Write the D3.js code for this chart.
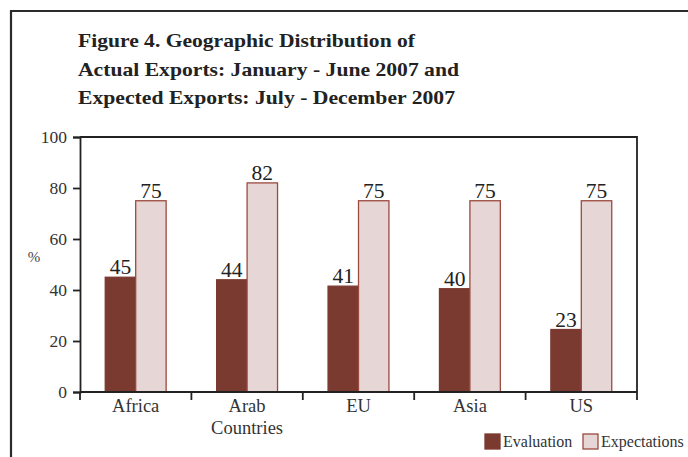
<!DOCTYPE html>
<html>
<head>
<meta charset="utf-8">
<script src="https://cdn.jsdelivr.net/npm/d3@7"></script>
<style>
  body { margin: 0; background: #fff; }
  svg text { font-family: "Liberation Serif", "Times New Roman", serif; }
</style>
</head>
<body>
<div id="chart"></div>
<script>
// Figure 4 - actual vs expected exports by region

const titleLines = [
    'Figure 4. Geographic Distribution of',
    'Actual Exports: January - June 2007 and',
    'Expected Exports: July - December 2007'
];
const categories = [['Africa'], ['Arab', 'Countries'], ['EU'], ['Asia'], ['US']];
const seriesNames = ['Evaluation', 'Expectations'];
const evaluation = [45, 44, 41.5, 40.5, 24.5];
const expectations = [75, 82, 75, 75, 75];
const evaluationLabels = ['45', '44', '41', '40', '23'];
const expectationLabels = ['75', '82', '75', '75', '75'];
const yTicks = [0, 20, 40, 60, 80, 100];

const colors = { Evaluation: '#7b3a30', Expectations: '#e6d6d5' };
const strokes = { Evaluation: '#7b3a30', Expectations: '#9c4a3f' };
const SERIF = '"Liberation Serif", "Times New Roman", serif';

const width = 688, height = 457;
const margin = { top: 137, right: 51, bottom: 65, left: 80 };

const svg = d3.select('#chart').append('svg')
    .attr('width', width)
    .attr('height', height)
    .attr('font-family', SERIF);

// outer frame (runs off the right and bottom edges)
svg.append('path')
    .attr('d', `M11,${height + 5}V11H${width + 5}`)
    .attr('fill', 'none')
    .attr('stroke', '#2b2b2b')
    .attr('stroke-width', 2.2);

// title
svg.append('g').selectAll('text')
    .data(titleLines)
    .join('text')
    .attr('x', 78)
    .attr('y', (d, i) => 47 + i * 28.5)
    .attr('font-family', SERIF)
    .attr('font-size', 19.5)
    .attr('font-weight', 'bold')
    .attr('fill', '#222')
    .attr('textLength', (d, i) => [337, 381, 377][i])
    .attr('lengthAdjust', 'spacingAndGlyphs')
    .text(d => d);

const x0 = d3.scaleBand()
    .domain(d3.range(categories.length))
    .range([margin.left, width - margin.right])
    .paddingInner(0)
    .paddingOuter(0);

const x1 = d3.scaleBand()
    .domain(seriesNames)
    .range([0, x0.bandwidth()])
    .paddingInner(0)
    .paddingOuter(0.83);

const y = d3.scaleLinear()
    .domain([0, 100])
    .range([height - margin.bottom, margin.top]);

const plotBottom = y(0), plotTop = y(100);
const plotLeft = margin.left, plotRight = width - margin.right;

// frame around plot area (top + right)
svg.append('path')
    .attr('d', `M${plotLeft},${plotTop}H${plotRight}V${plotBottom}`)
    .attr('fill', 'none')
    .attr('stroke', '#222')
    .attr('stroke-width', 1.8);

// y axis
const yAxis = svg.append('g')
    .attr('transform', `translate(${plotLeft},0)`)
    .call(d3.axisLeft(y).tickValues(yTicks).tickSize(7).tickPadding(6));
yAxis.attr('font-family', SERIF);
yAxis.select('.domain').attr('stroke', '#222').attr('stroke-width', 1.8);
yAxis.selectAll('.tick line').attr('stroke', '#222').attr('stroke-width', 1.8);
yAxis.selectAll('.tick text')
    .attr('font-size', 17.5)
    .attr('font-family', SERIF)
    .attr('fill', '#333');

svg.append('text')
    .attr('x', 34)
    .attr('y', 262)
    .attr('text-anchor', 'middle')
    .attr('font-family', SERIF)
    .attr('font-size', 15)
    .attr('fill', '#444')
    .text('%');

// grouped bars
const barData = i => [
    { key: 'Evaluation', value: evaluation[i], label: evaluationLabels[i] },
    { key: 'Expectations', value: expectations[i], label: expectationLabels[i] }
];

const groups = svg.append('g').selectAll('g')
    .data(categories.map((c, i) => i))
    .join('g')
    .attr('transform', i => `translate(${x0(i)},0)`);

groups.selectAll('rect')
    .data(barData)
    .join('rect')
    .attr('x', d => x1(d.key))
    .attr('y', d => y(d.value))
    .attr('width', x1.bandwidth())
    .attr('height', d => y(0) - y(d.value))
    .attr('fill', d => colors[d.key])
    .attr('stroke', d => strokes[d.key])
    .attr('stroke-width', 1.3);

groups.selectAll('text.val')
    .data(barData)
    .join('text')
    .attr('class', 'val')
    .attr('x', d => x1(d.key) + x1.bandwidth() / 2)
    .attr('y', d => y(d.value) - 3)
    .attr('text-anchor', 'middle')
    .attr('font-family', SERIF)
    .attr('font-size', 21.5)
    .attr('fill', '#222')
    .text(d => d.label);

// x axis: baseline with ticks between categories
svg.append('line')
    .attr('x1', plotLeft).attr('x2', plotRight)
    .attr('y1', plotBottom).attr('y2', plotBottom)
    .attr('stroke', '#222')
    .attr('stroke-width', 1.8);

const boundaries = d3.range(categories.length + 1).map(i =>
    i < categories.length ? x0(i) : x0(i - 1) + x0.bandwidth());
svg.append('g').selectAll('line')
    .data(boundaries)
    .join('line')
    .attr('x1', d => d).attr('x2', d => d)
    .attr('y1', plotBottom).attr('y2', plotBottom + 8)
    .attr('stroke', '#222')
    .attr('stroke-width', 1.8);

svg.append('g').selectAll('text')
    .data(categories.map((c, i) => i))
    .join('text')
    .attr('x', i => x0(i) + x0.bandwidth() / 2)
    .attr('y', plotBottom + 20)
    .attr('text-anchor', 'middle')
    .attr('font-family', SERIF)
    .attr('font-size', 18.5)
    .attr('fill', '#333')
    .selectAll('tspan')
    .data(i => categories[i].map(t => ({ t, x: x0(i) + x0.bandwidth() / 2 })))
    .join('tspan')
    .attr('x', d => d.x)
    .attr('dy', (d, j) => j === 0 ? 0 : 21.5)
    .text(d => d.t);

// legend
const legendX = [485, 583];
const legend = svg.append('g').selectAll('g')
    .data(seriesNames)
    .join('g')
    .attr('transform', (d, i) => `translate(${legendX[i]},434)`);
legend.append('rect')
    .attr('width', 15).attr('height', 15)
    .attr('fill', d => colors[d])
    .attr('stroke', d => strokes[d])
    .attr('stroke-width', 1.3);
legend.append('text')
    .attr('x', 18)
    .attr('y', 13)
    .attr('font-family', SERIF)
    .attr('font-size', 16)
    .attr('fill', '#333')
    .text(d => d);
</script>
</body>
</html>
